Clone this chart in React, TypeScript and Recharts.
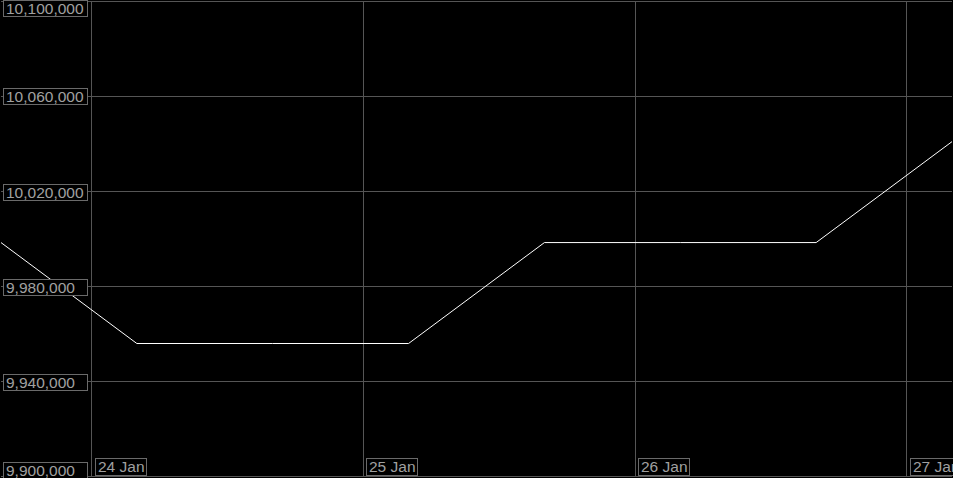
import React from 'react'
import { LineChart, Line, XAxis, YAxis, CartesianGrid, ReferenceLine } from 'recharts'

// sample times, 12h apart (UTC)
const pointTimes = [
  Date.UTC(2024, 0, 23, 16),
  Date.UTC(2024, 0, 24, 4),
  Date.UTC(2024, 0, 24, 16),
  Date.UTC(2024, 0, 25, 4),
  Date.UTC(2024, 0, 25, 16),
  Date.UTC(2024, 0, 26, 4),
  Date.UTC(2024, 0, 26, 16),
  Date.UTC(2024, 0, 27, 4),
]
const values = [9998500, 9956000, 9956000, 9956000, 9998500, 9998500, 9998500, 10041000]

const dayTicks = [
  Date.UTC(2024, 0, 24),
  Date.UTC(2024, 0, 25),
  Date.UTC(2024, 0, 26),
  Date.UTC(2024, 0, 27),
]
const valueTicks = [9900000, 9940000, 9980000, 10020000, 10060000, 10100000]
const months = ['Jan', 'Feb', 'Mar', 'Apr', 'May', 'Jun', 'Jul', 'Aug', 'Sep', 'Oct', 'Nov', 'Dec']

const W = 953
const H = 478
const FONT = '"Liberation Sans", Arial, sans-serif'
const TEXT = '#a0a0a0'
const BOX = '#6a6a6a'
const GRID = '#555555'

const data = pointTimes.map((t, i) => ({ t, v: values[i] }))

const fmtDate = (t: number) => {
  const d = new Date(t)
  return `${d.getUTCDate()} ${months[d.getUTCMonth()]}`
}

const YTick = (props: any) => {
  const { y, payload } = props
  const boxH = 16
  const top = Math.max(0, Math.min(y - boxH / 2, H - boxH - 0.5))
  return (
    <g>
      <rect x={3.5} y={Math.round(top) + 0.5} width={84} height={boxH} fill="#000" stroke={BOX} />
      <text x={6} y={Math.round(top) + 14} fill={TEXT} fontSize={15.5} fontFamily={FONT} textAnchor="start">
        {Number(payload.value).toLocaleString('en-US')}
      </text>
    </g>
  )
}

const XTick = (props: any) => {
  const { x, payload } = props
  const left = Math.round(x) + 3
  const bottom = H - 2
  return (
    <g>
      <rect x={left + 0.5} y={bottom - 17.5} width={51} height={17} fill="#000" stroke={BOX} />
      <text x={left + 3} y={bottom - 4} fill={TEXT} fontSize={15.5} fontFamily={FONT} textAnchor="start">
        {fmtDate(payload.value)}
      </text>
    </g>
  )
}

export default function App() {
  return (
    <div style={{ position: 'absolute', left: 0, top: 0, width: W, height: H, background: '#000' }}>
      <LineChart width={W} height={H} data={data} margin={{ top: 1.5, right: 1, bottom: 1.5, left: 1 }}>
        <CartesianGrid stroke={GRID} vertical={false} shapeRendering="crispEdges" />
        {dayTicks.map((t) => (
          <ReferenceLine key={t} x={t} stroke={GRID} shapeRendering="crispEdges" />
        ))}
        <XAxis
          dataKey="t"
          type="number"
          domain={[pointTimes[0], pointTimes[pointTimes.length - 1]]}
          ticks={dayTicks}
          interval={0}
          mirror
          tickSize={0}
          tickMargin={0}
          tickLine={false}
          axisLine={false}
          tick={(p: any) => <XTick {...p} />}
        />
        <YAxis
          type="number"
          domain={[9900000, 10100000]}
          ticks={valueTicks}
          interval={0}
          mirror
          tickSize={0}
          tickMargin={0}
          tickLine={false}
          axisLine={false}
          tick={(p: any) => <YTick {...p} />}
        />
        <Line
          dataKey="v"
          type="linear"
          stroke="#ffffff"
          strokeWidth={1}
          dot={false}
          isAnimationActive={false}
        />
      </LineChart>
    </div>
  )
}
